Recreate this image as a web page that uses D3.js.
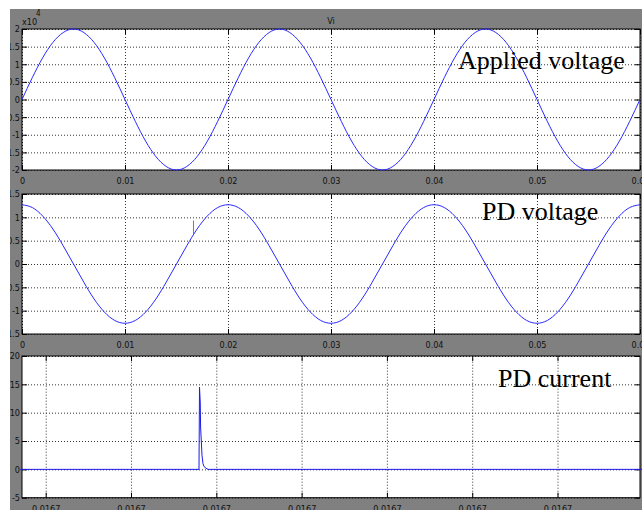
<!DOCTYPE html>
<html>
<head>
<meta charset="utf-8">
<script src="https://cdn.jsdelivr.net/npm/d3@7"></script>
<style>
  body { margin: 0; background: #fff; }
  .tick text { font-family: "Liberation Sans Narrow", "Arial Narrow", "DejaVu Sans Condensed", sans-serif; font-size: 9px; fill: #111; }
  .grid line { stroke: #333; stroke-dasharray: 1,2; }
  .label { font-family: "Liberation Serif", "Times New Roman", serif; font-size: 26px; fill: #000; }
  .small { font-family: "Liberation Sans Narrow", "Arial Narrow", "DejaVu Sans Condensed", sans-serif; font-size: 9px; fill: #111; }
</style>
</head>
<body>
<div class="chart"></div>
<script>
var W = 642, H = 510;

// time grid (s) for the two voltage traces, one sample per ms
var timeMs = [];
for (var i = 0; i <= 60; i++) timeMs.push(i / 1000);

// applied voltage, x10^4 V
var appliedV = [
  0, 0.62, 1.18, 1.62, 1.90, 2.00, 1.90, 1.62, 1.18, 0.62,
  0, -0.62, -1.18, -1.62, -1.90, -2.00, -1.90, -1.62, -1.18, -0.62,
  0, 0.62, 1.18, 1.62, 1.90, 2.00, 1.90, 1.62, 1.18, 0.62,
  0, -0.62, -1.18, -1.62, -1.90, -2.00, -1.90, -1.62, -1.18, -0.62,
  0, 0.62, 1.18, 1.62, 1.90, 2.00, 1.90, 1.62, 1.18, 0.62,
  0, -0.62, -1.18, -1.62, -1.90, -2.00, -1.90, -1.62, -1.18, -0.62,
  0
];

// PD voltage
var pdV = [
  1.27, 1.21, 1.03, 0.75, 0.39, 0, -0.39, -0.75, -1.03, -1.21,
  -1.27, -1.21, -1.03, -0.75, -0.39, 0, 0.39, 0.75, 1.03, 1.21,
  1.27, 1.21, 1.03, 0.75, 0.39, 0, -0.39, -0.75, -1.03, -1.21,
  -1.27, -1.21, -1.03, -0.75, -0.39, 0, 0.39, 0.75, 1.03, 1.21,
  1.27, 1.21, 1.03, 0.75, 0.39, 0, -0.39, -0.75, -1.03, -1.21,
  -1.27, -1.21, -1.03, -0.75, -0.39, 0, 0.39, 0.75, 1.03, 1.21,
  1.27
];
// the little discharge blip on the PD voltage
var spikeT = [0.01665, 0.01665];
var spikeV = [0.64, 0.93];

// PD current, zoomed around the discharge
var currT = [0.0166637, 0.016665797, 0.016665803, 0.016665812, 0.016665816, 0.016665824,
  0.016665832, 0.016665844, 0.016665856, 0.016665879, 0.016665903, 0.016671];
var currI = [0, 0, 14.5, 11.7, 7.3, 5.0, 2.5, 1.0, 0.5, 0.2, 0, 0];

// ticks
var xTicks12 = [0, 0.01, 0.02, 0.03, 0.04, 0.05, 0.06];
var xLabels12 = ["0", "0.01", "0.02", "0.03", "0.04", "0.05", "0.06"];
var yTicks1 = [2, 1.5, 1, 0.5, 0, -0.5, -1, -1.5, -2];
var yLabels1 = ["2", "1.5", "1", "0.5", "0", "-0.5", "-1", "-1.5", "-2"];
var yTicks2 = [1.5, 1, 0.5, 0, -0.5, -1, -1.5];
var yLabels2 = ["1.5", "1", "0.5", "0", "-0.5", "-1", "-1.5"];
var xTicks3 = [0.016664, 0.016665, 0.016666, 0.016667, 0.016668, 0.016669, 0.016670];
var xLabels3 = ["0.0167", "0.0167", "0.0167", "0.0167", "0.0167", "0.0167", "0.0167"];
var yTicks3 = [20, 15, 10, 5, 0, -5];
var yLabels3 = ["20", "15", "10", "5", "0", "-5"];

var svg = d3.select(".chart").append("svg")
  .attr("width", W).attr("height", H);

svg.append("rect").attr("x", 10).attr("y", 9).attr("width", W - 10).attr("height", H - 9)
  .attr("fill", "#808080");

var left = 22, right = 640;

function panel(top, bottom, xDom, yDom, xt, xl, yt, yl) {
  var x = d3.scaleLinear().domain(xDom).range([left, right]);
  var y = d3.scaleLinear().domain(yDom).range([bottom, top]);
  var h = bottom - top, w = right - left;
  var g = svg.append("g");
  g.append("rect").attr("x", left).attr("y", top).attr("width", w).attr("height", h)
    .attr("fill", "#fff");

  // dotted grid
  g.append("g").attr("class", "grid").attr("transform", "translate(0," + bottom + ")")
    .call(d3.axisBottom(x).tickValues(xt).tickSize(-h).tickFormat(""))
    .call(a => a.select(".domain").remove());
  g.append("g").attr("class", "grid").attr("transform", "translate(" + left + ",0)")
    .call(d3.axisLeft(y).tickValues(yt).tickSize(-w).tickFormat(""))
    .call(a => a.select(".domain").remove());

  // inward ticks with labels
  g.append("g").attr("transform", "translate(0," + bottom + ")")
    .call(d3.axisBottom(x).tickValues(xt).tickSize(-5).tickPadding(8).tickFormat((d, i) => xl[i]))
    .call(a => a.select(".domain").remove());
  g.append("g").attr("transform", "translate(0," + top + ")")
    .call(d3.axisTop(x).tickValues(xt).tickSize(-5).tickFormat(""))
    .call(a => a.select(".domain").remove());
  g.append("g").attr("transform", "translate(" + left + ",0)")
    .call(d3.axisLeft(y).tickValues(yt).tickSize(-5).tickPadding(2).tickFormat((d, i) => yl[i]))
    .call(a => a.select(".domain").remove());
  g.append("g").attr("transform", "translate(" + right + ",0)")
    .call(d3.axisRight(y).tickValues(yt).tickSize(-5).tickFormat(""))
    .call(a => a.select(".domain").remove());

  g.append("rect").attr("x", left).attr("y", top).attr("width", w).attr("height", h)
    .attr("fill", "none").attr("stroke", "#000");
  return { x: x, y: y, g: g };
}

function trace(p, ts, vs, curve, color) {
  var line = d3.line().x(d => p.x(d[0])).y(d => p.y(d[1])).curve(curve);
  p.g.append("path").datum(ts.map((t, i) => [t, vs[i]]))
    .attr("d", line).attr("fill", "none").attr("stroke", color).attr("stroke-width", 1);
}

var p1 = panel(29, 170, [0, 0.06], [-2, 2], xTicks12, xLabels12, yTicks1, yLabels1);
trace(p1, timeMs, appliedV, d3.curveNatural, "#2a2aff");

var p2 = panel(194, 334, [0, 0.06], [-1.5, 1.5], xTicks12, xLabels12, yTicks2, yLabels2);
trace(p2, timeMs, pdV, d3.curveNatural, "#2a2aff");
trace(p2, spikeT, spikeV, d3.curveLinear, "#6a6aff");

var p3 = panel(356, 497.7, [0.016663722, 0.016670967], [-5, 20], xTicks3, xLabels3, yTicks3, yLabels3);
trace(p3, currT, currI, d3.curveLinear, "#1a1aee");

// titles and labels
svg.append("text").attr("class", "small").attr("x", 331).attr("y", 24).attr("text-anchor", "middle").text("Vi");
svg.append("text").attr("class", "small").attr("x", 22).attr("y", 25).text("x10");
svg.append("text").attr("class", "small").attr("x", 36).attr("y", 16).style("font-size", "8px").text("4");

svg.append("text").attr("class", "label").attr("x", 458).attr("y", 69).text("Applied voltage");
svg.append("text").attr("class", "label").attr("x", 482).attr("y", 220).text("PD voltage");
svg.append("text").attr("class", "label").attr("x", 498).attr("y", 387).text("PD current");

// the screenshot is cropped at the left and top
svg.append("rect").attr("x", 0).attr("y", 0).attr("width", 10).attr("height", H).attr("fill", "#fff");
svg.append("rect").attr("x", 0).attr("y", 0).attr("width", W).attr("height", 9).attr("fill", "#fff");
</script>
</body>
</html>
